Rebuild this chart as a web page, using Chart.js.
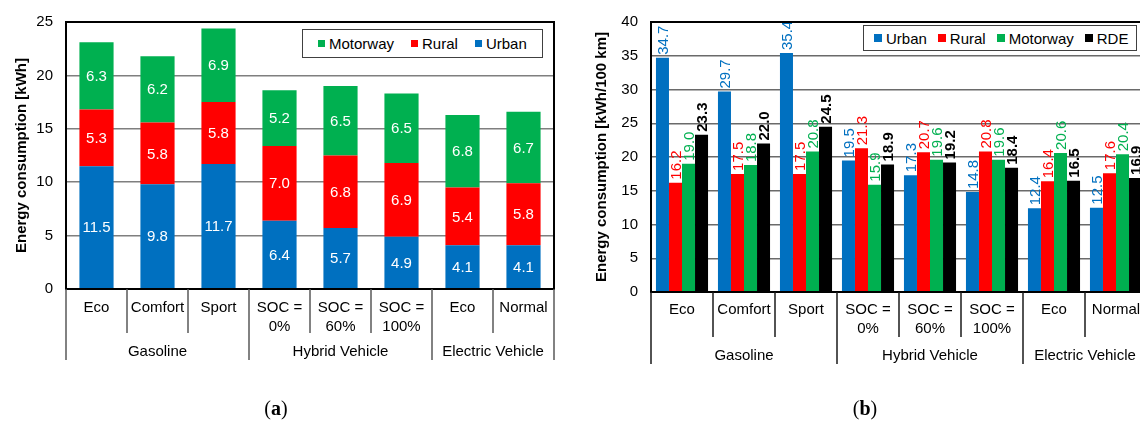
<!DOCTYPE html>
<html>
<head>
<meta charset="utf-8">
<script src="https://cdn.jsdelivr.net/npm/chart.js@4.4.1/dist/chart.umd.min.js"></script>
<style>
  html, body { margin: 0; padding: 0; background: #fff; }
  #wrap { position: relative; width: 1140px; height: 421px; overflow: hidden; }
  #ca { position: absolute; left: 0; top: 0; }
  #cb { position: absolute; left: 580px; top: 0; }
  .legend { position: absolute; box-sizing: border-box; border: 1.5px solid #404040; background: #fff;
            display: flex; align-items: center; white-space: nowrap;
            font: 15px 'Liberation Sans', Arial, sans-serif; color: #000; }
  .legend .item { display: flex; align-items: center; }
  .legend .sq { display: inline-block; margin-right: 4px; }
  .caption { position: absolute; font: 20px 'Liberation Serif', 'Times New Roman', serif; color: #000;
             transform: translate(-50%, -50%); white-space: nowrap; }
</style>
</head>
<body>
<div id="wrap">
  <canvas id="ca" width="580" height="421"></canvas>
  <canvas id="cb" width="580" height="421"></canvas>
  <div id="legA" class="legend" style="left:302px;top:29px;width:241px;height:29px;padding-left:15px;gap:17px;"></div>
  <div id="legB" class="legend" style="left:863px;top:25px;width:274px;height:26px;padding-left:10px;gap:11px;"></div>
  <div class="caption" style="left:276px;top:408px;">(<b>a</b>)</div>
  <div class="caption" style="left:865px;top:408px;">(<b>b</b>)</div>
</div>
<script>
// ---------- data ----------
const categoryLabels = [['Eco'], ['Comfort'], ['Sport'], ['SOC =', '0%'], ['SOC =', '60%'], ['SOC =', '100%'], ['Eco'], ['Normal']];
const groupNames = ['Gasoline', 'Hybrid Vehicle', 'Electric Vehicle'];
const groupSizes = [3, 3, 2];

// (a) energy consumption per trip section [kWh]
const kwhUrban    = [11.5, 9.8, 11.7, 6.4, 5.7, 4.9, 4.1, 4.1];
const kwhRural    = [5.3, 5.8, 5.8, 7.0, 6.8, 6.9, 5.4, 5.8];
const kwhMotorway = [6.3, 6.2, 6.9, 5.2, 6.5, 6.5, 6.8, 6.7];

// (b) energy consumption per distance [kWh/100 km]
const per100Urban    = [34.7, 29.7, 35.4, 19.5, 17.3, 14.8, 12.4, 12.5];
const per100Rural    = [16.2, 17.5, 17.5, 21.3, 20.7, 20.8, 16.4, 17.6];
const per100Motorway = [19.0, 18.8, 20.8, 15.9, 19.6, 19.6, 20.6, 20.4];
const per100RDE      = [23.3, 22.0, 24.5, 18.9, 19.2, 18.4, 16.5, 16.9];

const yTicksA = { min: 0, max: 25, step: 5 };
const yTicksB = { min: 0, max: 40, step: 5 };

const COL = { urban: '#0070C0', rural: '#FF0000', motorway: '#00B050', rde: '#000000' };
const FONT = "'Liberation Sans', Arial, sans-serif";

Chart.defaults.font.family = FONT;
Chart.defaults.font.size = 15;
Chart.defaults.color = '#000';

// ---------- plugins ----------
const frameGroups = {
  id: 'frameGroups',
  afterDraw(chart, args, o) {
    const { ctx, chartArea: ca } = chart;
    const x = chart.scales.x;
    const n = chart.data.labels.length;
    const bound = i => i === 0 ? ca.left : (i === n ? ca.right : (x.getPixelForValue(i - 1) + x.getPixelForValue(i)) / 2);
    ctx.save();
    // plot frame
    ctx.strokeStyle = '#000';
    ctx.lineWidth = 2;
    ctx.strokeRect(ca.left, ca.top, ca.right - ca.left, ca.bottom - ca.top);
    // separators
    const groupEdges = [0];
    groupSizes.forEach(s => groupEdges.push(groupEdges[groupEdges.length - 1] + s));
    ctx.strokeStyle = o.sepColor;
    ctx.lineWidth = 1.5;
    for (let i = 0; i <= n; i++) {
      const len = groupEdges.includes(i) ? o.groupLen : o.catLen;
      const px = bound(i);
      ctx.beginPath();
      ctx.moveTo(px, ca.bottom);
      ctx.lineTo(px, ca.bottom + len);
      ctx.stroke();
    }
    // group labels
    ctx.fillStyle = '#000';
    ctx.font = '15px ' + FONT;
    ctx.textAlign = 'center';
    ctx.textBaseline = 'middle';
    groupNames.forEach((g, k) => {
      const cx = (bound(groupEdges[k]) + bound(groupEdges[k + 1])) / 2;
      ctx.fillText(g, cx, ca.bottom + o.groupY);
    });
    ctx.restore();
  }
};

const stackLabels = {
  id: 'stackLabels',
  afterDatasetsDraw(chart) {
    const { ctx } = chart;
    ctx.save();
    ctx.fillStyle = '#fff';
    ctx.font = '15px ' + FONT;
    ctx.textAlign = 'center';
    ctx.textBaseline = 'middle';
    chart.data.datasets.forEach((ds, di) => {
      chart.getDatasetMeta(di).data.forEach((bar, i) => {
        ctx.fillText(ds.data[i].toFixed(1), bar.x, (bar.y + bar.base) / 2 + 1);
      });
    });
    ctx.restore();
  }
};

const verticalLabels = {
  id: 'verticalLabels',
  afterDatasetsDraw(chart) {
    const { ctx } = chart;
    chart.data.datasets.forEach((ds, di) => {
      chart.getDatasetMeta(di).data.forEach((bar, i) => {
        ctx.save();
        ctx.translate(bar.x, bar.y - 3);
        ctx.rotate(-Math.PI / 2);
        ctx.fillStyle = ds.labelColor;
        ctx.font = (ds.labelBold ? 'bold ' : '') + '15px ' + FONT;
        ctx.textAlign = 'left';
        ctx.textBaseline = 'middle';
        ctx.fillText(ds.data[i].toFixed(1), 0, 1);
        ctx.restore();
      });
    });
  }
};

function yScale(t, title, gridColor, width) {
  return {
    min: t.min, max: t.max,
    ticks: { stepSize: t.step, padding: 13, color: '#000', font: { size: 15 } },
    grid: { color: gridColor, lineWidth: 1.5, drawTicks: false },
    border: { color: '#000', width: 2 },
    title: { display: true, text: title, color: '#000', font: { size: 15, weight: 'bold' }, padding: { top: 13, bottom: 0 } },
    afterFit(s) { s.width = width; }
  };
}
function xScale(stacked, padding, height) {
  return {
    stacked,
    grid: { display: false, drawTicks: false },
    border: { color: '#000', width: 2 },
    ticks: { padding, maxRotation: 0, minRotation: 0, autoSkip: false, color: '#000', font: { size: 15, lineHeight: 1.3 } },
    afterFit(s) { s.height = height; }
  };
}

// ---------- chart (a) ----------
new Chart(document.getElementById('ca'), {
  type: 'bar',
  data: {
    labels: categoryLabels,
    datasets: [
      { label: 'Urban', data: kwhUrban, backgroundColor: COL.urban },
      { label: 'Rural', data: kwhRural, backgroundColor: COL.rural },
      { label: 'Motorway', data: kwhMotorway, backgroundColor: COL.motorway }
    ]
  },
  options: {
    responsive: false, animation: false, devicePixelRatio: 1,
    layout: { padding: { left: 0, top: 20, right: 26, bottom: 0 } },
    datasets: { bar: { barPercentage: 0.56, categoryPercentage: 1 } },
    plugins: {
      legend: { display: false }, tooltip: { enabled: false },
      frameGroups: { sepColor: '#595959', catLen: 44, groupLen: 71, groupY: 63 }
    },
    scales: {
      x: xScale(true, 9, 132),
      y: Object.assign(yScale(yTicksA, 'Energy consumption [kWh]', '#7f7f7f', 66), { stacked: true })
    }
  },
  plugins: [stackLabels, frameGroups]
});

// ---------- chart (b) ----------
new Chart(document.getElementById('cb'), {
  type: 'bar',
  data: {
    labels: categoryLabels,
    datasets: [
      { label: 'Urban', data: per100Urban, backgroundColor: COL.urban, labelColor: COL.urban },
      { label: 'Rural', data: per100Rural, backgroundColor: COL.rural, labelColor: COL.rural },
      { label: 'Motorway', data: per100Motorway, backgroundColor: COL.motorway, labelColor: COL.motorway },
      { label: 'RDE', data: per100RDE, backgroundColor: COL.rde, labelColor: '#000', labelBold: true }
    ]
  },
  options: {
    responsive: false, animation: false, devicePixelRatio: 1,
    layout: { padding: { left: 0, top: 18, right: 13, bottom: 0 } },
    datasets: { bar: { barPercentage: 1, categoryPercentage: 0.84 } },
    plugins: {
      legend: { display: false }, tooltip: { enabled: false },
      frameGroups: { sepColor: '#1a1a1a', catLen: 45, groupLen: 72, groupY: 64 }
    },
    scales: {
      x: xScale(false, 8, 129),
      y: yScale(yTicksB, 'Energy consumption [kWh/100 km]', '#6a6a6a', 71)
    }
  },
  plugins: [verticalLabels, frameGroups]
});

// ---------- legends (HTML) ----------
function buildLegend(el, items, sq) {
  items.forEach(([name, color]) => {
    const it = document.createElement('span');
    it.className = 'item';
    const s = document.createElement('span');
    s.className = 'sq';
    s.style.width = sq + 'px'; s.style.height = sq + 'px'; s.style.background = color;
    it.appendChild(s);
    it.appendChild(document.createTextNode(name));
    el.appendChild(it);
  });
}
buildLegend(document.getElementById('legA'), [['Motorway', COL.motorway], ['Rural', COL.rural], ['Urban', COL.urban]], 7);
buildLegend(document.getElementById('legB'), [['Urban', COL.urban], ['Rural', COL.rural], ['Motorway', COL.motorway], ['RDE', COL.rde]], 8);
</script>
</body>
</html>
